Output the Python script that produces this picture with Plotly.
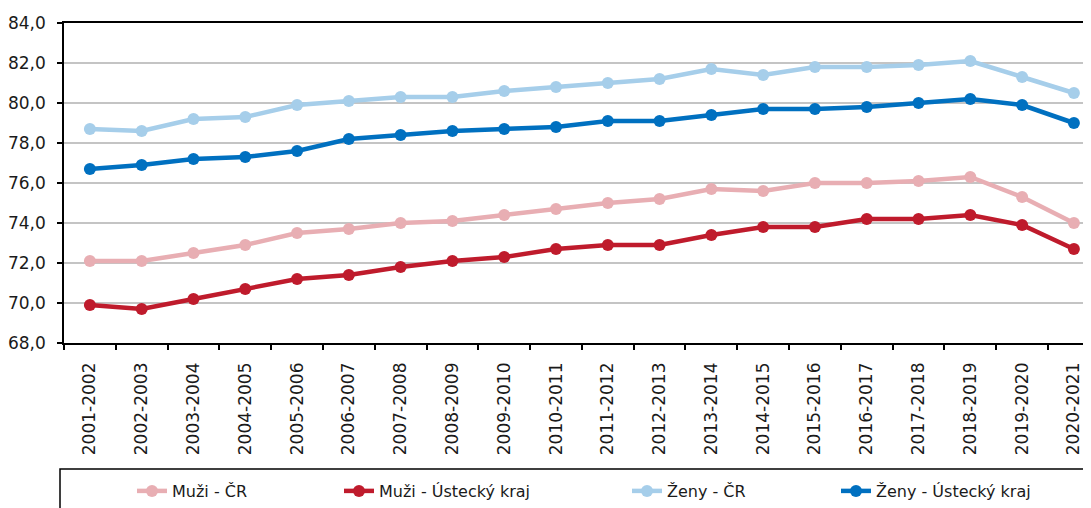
import plotly.graph_objects as go

categories = ["2001-2002", "2002-2003", "2003-2004", "2004-2005", "2005-2006",
              "2006-2007", "2007-2008", "2008-2009", "2009-2010", "2010-2011",
              "2011-2012", "2012-2013", "2013-2014", "2014-2015", "2015-2016",
              "2016-2017", "2017-2018", "2018-2019", "2019-2020", "2020-2021"]

muzi_cr = [72.1, 72.1, 72.5, 72.9, 73.5, 73.7, 74.0, 74.1, 74.4, 74.7,
           75.0, 75.2, 75.7, 75.6, 76.0, 76.0, 76.1, 76.3, 75.3, 74.0]
muzi_ust = [69.9, 69.7, 70.2, 70.7, 71.2, 71.4, 71.8, 72.1, 72.3, 72.7,
            72.9, 72.9, 73.4, 73.8, 73.8, 74.2, 74.2, 74.4, 73.9, 72.7]
zeny_cr = [78.7, 78.6, 79.2, 79.3, 79.9, 80.1, 80.3, 80.3, 80.6, 80.8,
           81.0, 81.2, 81.7, 81.4, 81.8, 81.8, 81.9, 82.1, 81.3, 80.5]
zeny_ust = [76.7, 76.9, 77.2, 77.3, 77.6, 78.2, 78.4, 78.6, 78.7, 78.8,
            79.1, 79.1, 79.4, 79.7, 79.7, 79.8, 80.0, 80.2, 79.9, 79.0]

series_names = ["Muži - ČR", "Muži - Ústecký kraj", "Ženy - ČR", "Ženy - Ústecký kraj"]
series_values = [muzi_cr, muzi_ust, zeny_cr, zeny_ust]
colors = ["#E8AEB3", "#BF1B2C", "#A6CEEA", "#0070C0"]
widths = [4.5, 4.5, 4.5, 4.5]
legend_ids = ["legend", "legend2", "legend3", "legend4"]

FONT = "DejaVu Sans"
OFF = 8  # page body margin offset in the browser
W, H = 1091 - OFF, 508 - OFF
ML, MR, MT, MB = 64 - OFF, 0, 23 - OFF, 165
PW = W - ML - MR
PH = H - MT - MB

def px_x(px):
    # px given in reference-image coordinates
    return (px - OFF - ML) / PW

def px_y(py):
    return (H - MB - (py - OFF)) / PH

fig = go.Figure()
for name, vals, col, w, lg in zip(series_names, series_values, colors, widths, legend_ids):
    fig.add_trace(go.Scatter(
        x=categories, y=vals, mode="lines+markers", name=name,
        line=dict(color=col, width=w),
        marker=dict(color=col, size=12),
        legend=lg, cliponaxis=False,
    ))

legend_px = [132, 339, 627, 836]
legend_common = dict(orientation="h", yanchor="middle", xanchor="left",
                     y=px_y(491), bgcolor="rgba(0,0,0,0)", borderwidth=0,
                     font=dict(family=FONT, size=16, color="#1a1a1a"))
layout_legends = {}
for lg, lx in zip(legend_ids, legend_px):
    layout_legends[lg] = dict(x=px_x(lx), **legend_common)

fig.update_layout(
    width=W, height=H,
    margin=dict(l=ML, r=MR, t=MT, b=MB, pad=0, autoexpand=False),
    paper_bgcolor="white", plot_bgcolor="white",
    separators=", ",
    showlegend=True,
    font=dict(family=FONT, size=17, color="#1a1a1a"),
    xaxis=dict(
        type="category", range=[-0.5, 19.33], automargin=False,
        tickangle=-90, tickson="boundaries", ticks="outside", ticklen=5,
        tickcolor="black", tickwidth=1.5,
        showline=True, linecolor="black", linewidth=1.5, mirror=True,
        showgrid=False, zeroline=False,
        tickfont=dict(family=FONT, size=17, color="#1a1a1a"),
        ticklabelstandoff=11,
    ),
    yaxis=dict(
        range=[68, 84], dtick=2, tick0=68, tickformat=".1f", automargin=False,
        ticks="outside", ticklen=5, tickcolor="black", tickwidth=1.5,
        showline=True, linecolor="black", linewidth=1.5,
        showgrid=True, gridcolor="#C4C4C4", gridwidth=1.5,
        zeroline=False,
        tickfont=dict(family=FONT, size=17, color="#1a1a1a"),
        ticklabelstandoff=8,
    ),
    shapes=[dict(type="rect", xref="paper", yref="paper",
                 x0=px_x(60), x1=px_x(1110), y0=px_y(469), y1=px_y(530),
                 line=dict(color="black", width=1.5), fillcolor="rgba(0,0,0,0)",
                 layer="below")],
    **layout_legends,
)

fig.write_html("out.html")
